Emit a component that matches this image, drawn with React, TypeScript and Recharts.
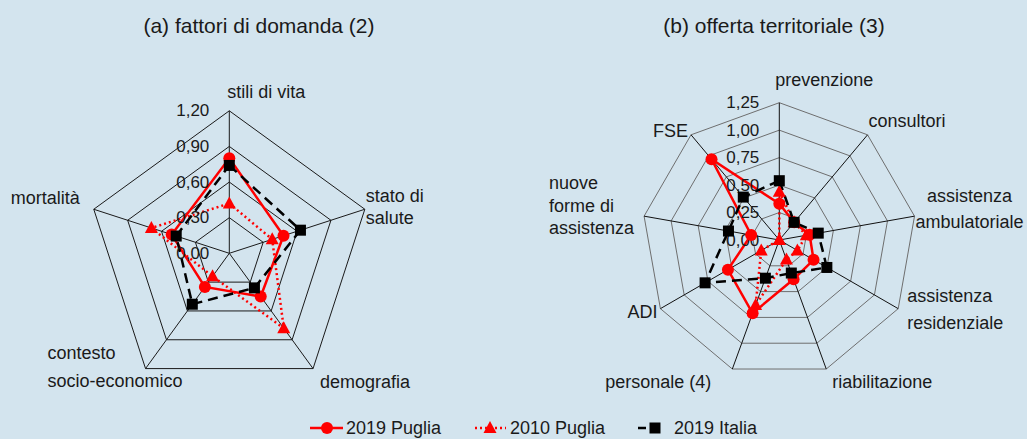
import React from 'react';
import { RadarChart, Radar, PolarGrid, PolarAngleAxis, PolarRadiusAxis } from 'recharts';

// (a) fattori di domanda
const demandCategories = ['stili di vita', 'stato di salute', 'demografia', 'contesto socio-economico', 'mortalità'];
const demandPuglia2019 = [0.80, 0.48, 0.45, 0.35, 0.51];
const demandPuglia2010 = [0.42, 0.38, 0.78, 0.24, 0.69];
const demandItalia2019 = [0.74, 0.63, 0.36, 0.53, 0.47];
const demandTicks = [0, 0.3, 0.6, 0.9, 1.2];

// (b) offerta territoriale
const supplyCategories = [
  'prevenzione',
  'consultori',
  'assistenza ambulatoriale',
  'assistenza residenziale',
  'riabilitazione',
  'personale (4)',
  'ADI',
  'nuove forme di assistenza',
  'FSE',
];
const supplyPuglia2019 = [0.33, 0.21, 0.28, 0.36, 0.38, 0.71, 0.54, 0.26, 0.96];
const supplyPuglia2010 = [0.44, 0.21, 0.25, 0.19, 0.19, 0.63, 0.19, null, null];
const supplyItalia2019 = [0.54, 0.21, 0.36, 0.50, 0.32, 0.37, 0.78, 0.47, 0.51];
const supplyTicks = [0, 0.25, 0.5, 0.75, 1, 1.25];

const seriesNames = ['2019 Puglia', '2010 Puglia', '2019 Italia'];

const RED = '#ff0000';
const FONT = '"Liberation Sans", Arial, sans-serif';
const TEXT = '#1a1a1a';

const buildRows = (cats: string[], a: (number | null)[], b: (number | null)[], c: (number | null)[]) =>
  cats.map((name, i) => ({ name, p2019: a[i], p2010: b[i], i2019: c[i] }));

type LabelLayout = { anchor: 'start' | 'middle' | 'end'; dx: number; lines: { text: string; dy: number }[] };

const demandLabels: Record<string, LabelLayout> = {
  'stili di vita': { anchor: 'start', dx: -2, lines: [{ text: 'stili di vita', dy: -19 }] },
  'stato di salute': { anchor: 'start', dx: 1, lines: [{ text: 'stato di', dy: -13 }, { text: 'salute', dy: 9 }] },
  demografia: { anchor: 'start', dx: 7, lines: [{ text: 'demografia', dy: 13 }] },
  'contesto socio-economico': {
    anchor: 'start',
    dx: -98,
    lines: [{ text: 'contesto', dy: -16 }, { text: 'socio-economico', dy: 12 }],
  },
  'mortalità': { anchor: 'end', dx: -14, lines: [{ text: 'mortalità', dy: -11 }] },
};

const supplyLabels: Record<string, LabelLayout> = {
  prevenzione: { anchor: 'start', dx: -4, lines: [{ text: 'prevenzione', dy: -23 }] },
  consultori: { anchor: 'start', dx: 1, lines: [{ text: 'consultori', dy: -14 }] },
  'assistenza ambulatoriale': {
    anchor: 'middle',
    dx: 55,
    lines: [{ text: 'assistenza', dy: -20 }, { text: 'ambulatoriale', dy: 6 }],
  },
  'assistenza residenziale': {
    anchor: 'start',
    dx: 9,
    lines: [{ text: 'assistenza', dy: -13 }, { text: 'residenziale', dy: 14 }],
  },
  riabilitazione: { anchor: 'start', dx: 6, lines: [{ text: 'riabilitazione', dy: 13 }] },
  'personale (4)': { anchor: 'end', dx: -21, lines: [{ text: 'personale (4)', dy: 13 }] },
  ADI: { anchor: 'end', dx: -3, lines: [{ text: 'ADI', dy: 3 }] },
  'nuove forme di assistenza': {
    anchor: 'start',
    dx: -95,
    lines: [{ text: 'nuove', dy: -33 }, { text: 'forme di', dy: -10 }, { text: 'assistenza', dy: 12 }],
  },
  FSE: { anchor: 'end', dx: -3, lines: [{ text: 'FSE', dy: -4 }] },
};

const fmt = (v: number) => v.toFixed(2).replace('.', ',');

const circleDot = (p: any) =>
  Number.isFinite(p.cx) && Number.isFinite(p.cy) ? (
    <circle key={`c${p.index}`} cx={p.cx} cy={p.cy} r={6} fill={RED} />
  ) : (
    <g key={`c${p.index}`} />
  );

const triangleDot = (p: any) =>
  Number.isFinite(p.cx) && Number.isFinite(p.cy) ? (
    <polygon
      key={`t${p.index}`}
      points={`${p.cx},${p.cy - 7} ${p.cx - 6.5},${p.cy + 5} ${p.cx + 6.5},${p.cy + 5}`}
      fill={RED}
    />
  ) : (
    <g key={`t${p.index}`} />
  );

const squareDot = (p: any) =>
  Number.isFinite(p.cx) && Number.isFinite(p.cy) ? (
    <rect key={`s${p.index}`} x={p.cx - 5.5} y={p.cy - 5.5} width={11} height={11} fill="#000" />
  ) : (
    <g key={`s${p.index}`} />
  );

interface SpiderProps {
  title: string;
  categories: string[];
  rows: any[];
  ticks: number[];
  labels: Record<string, LabelLayout>;
  left: number;
  width: number;
  cx: number;
  cy: number;
  radius: number;
  ringColor: string;
  spokeColor: string;
  titleX: number;
}

const Spider: React.FC<SpiderProps> = ({
  title,
  categories,
  rows,
  ticks,
  labels,
  left,
  width,
  cx,
  cy,
  radius,
  ringColor,
  spokeColor,
  titleX,
}) => {
  const n = categories.length;
  const localCx = cx - left;

  const angleTick = (p: any) => {
    const idx = categories.indexOf(p.payload.value);
    const lay = labels[p.payload.value];
    if (idx < 0 || !lay) return <g />;
    const ang = ((90 - (360 * idx) / n) * Math.PI) / 180;
    const vx = localCx + radius * Math.cos(ang);
    const vy = cy - radius * Math.sin(ang);
    return (
      <g>
        {lay.lines.map((l) => (
          <text
            key={l.text}
            x={vx + lay.dx}
            y={vy + l.dy}
            textAnchor={lay.anchor}
            dominantBaseline="central"
            fontSize={18}
            fontFamily={FONT}
            fill={TEXT}
          >
            {l.text}
          </text>
        ))}
      </g>
    );
  };

  const radiusTick = (p: any) => (
    <text
      x={p.x - 20}
      y={p.y}
      textAnchor="end"
      dominantBaseline="central"
      fontSize={17}
      fontFamily={FONT}
      fill={TEXT}
    >
      {fmt(p.payload.value)}
    </text>
  );

  return (
    <div style={{ position: 'absolute', left, top: 0, width, height: 439 }}>
      <div
        style={{
          position: 'absolute',
          left: titleX - left - 200,
          top: 14,
          width: 400,
          textAlign: 'center',
          fontFamily: FONT,
          fontSize: 21,
          color: TEXT,
        }}
      >
        {title}
      </div>
      <RadarChart
        width={width}
        height={410}
        data={rows}
        cx={localCx}
        cy={cy}
        outerRadius={radius}
        margin={{ top: 0, right: 0, bottom: 0, left: 0 }}
        style={{ position: 'absolute', left: 0, top: 0, overflow: 'visible' }}
      >
        <PolarGrid gridType="polygon" stroke={ringColor} strokeWidth={1} radialLines={false} />
        <PolarGrid gridType="polygon" stroke={spokeColor} strokeWidth={1} polarRadius={[]} />
        <PolarAngleAxis dataKey="name" tick={angleTick} tickLine={false} axisLine={false} />
        <PolarRadiusAxis
          angle={90}
          domain={[ticks[0], ticks[ticks.length - 1]]}
          ticks={ticks}
          tickCount={ticks.length}
          tick={radiusTick}
          axisLine={false}
          tickLine={false}
        />
        <Radar
          name={seriesNames[0]}
          dataKey="p2019"
          stroke={RED}
          strokeWidth={2.5}
          fill="none"
          fillOpacity={0}
          dot={circleDot}
          isAnimationActive={false}
        />
        <Radar
          name={seriesNames[1]}
          dataKey="p2010"
          stroke={RED}
          strokeWidth={2.5}
          strokeDasharray="2 3"
          fill="none"
          fillOpacity={0}
          connectNulls={false}
          dot={triangleDot}
          isAnimationActive={false}
        />
        <Radar
          name={seriesNames[2]}
          dataKey="i2019"
          stroke="#000"
          strokeWidth={2.5}
          strokeDasharray="10 6"
          fill="none"
          fillOpacity={0}
          dot={squareDot}
          isAnimationActive={false}
        />
      </RadarChart>
    </div>
  );
};

const Legend: React.FC = () => (
  <svg width={1027} height={30} style={{ position: 'absolute', left: 0, top: 412 }}>
    <g fontFamily={FONT} fontSize={18} fill={TEXT}>
      <line x1={310} x2={343} y1={16} y2={16} stroke={RED} strokeWidth={2.5} />
      <circle cx={327} cy={16} r={6} fill={RED} />
      <text x={346} y={16} dominantBaseline="central">{seriesNames[0]}</text>

      <line x1={475} x2={506} y1={16} y2={16} stroke={RED} strokeWidth={2.5} strokeDasharray="2 3" />
      <polygon points="490,9 483.5,21 496.5,21" fill={RED} />
      <text x={510} y={16} dominantBaseline="central">{seriesNames[1]}</text>

      <line x1={638} x2={663} y1={16} y2={16} stroke="#000" strokeWidth={2.5} strokeDasharray="8 5" />
      <rect x={649.5} y={10.5} width={11} height={11} fill="#000" />
      <text x={674} y={16} dominantBaseline="central">{seriesNames[2]}</text>
    </g>
  </svg>
);

export default function App() {
  const demandRows = buildRows(demandCategories, demandPuglia2019, demandPuglia2010, demandItalia2019);
  const supplyRows = buildRows(supplyCategories, supplyPuglia2019, supplyPuglia2010, supplyItalia2019);

  return (
    <div
      style={{
        position: 'absolute',
        left: 0,
        top: 0,
        width: 1027,
        height: 439,
        background: '#d3e4ee',
        overflow: 'hidden',
      }}
    >
      <Spider
        title="(a) fattori di domanda (2)"
        categories={demandCategories}
        rows={demandRows}
        ticks={demandTicks}
        labels={demandLabels}
        left={0}
        width={515}
        cx={229.3}
        cy={253.3}
        radius={142.5}
        ringColor="#1a1a1a"
        spokeColor="#1a1a1a"
        titleX={259}
      />
      <Spider
        title="(b) offerta territoriale (3)"
        categories={supplyCategories}
        rows={supplyRows}
        ticks={supplyTicks}
        labels={supplyLabels}
        left={510}
        width={517}
        cx={779.3}
        cy={240}
        radius={137.3}
        ringColor="#6e6e6e"
        spokeColor="#111"
        titleX={774}
      />
      <Legend />
    </div>
  );
}
